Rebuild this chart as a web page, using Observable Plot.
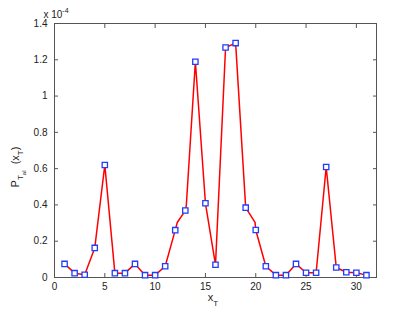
<!DOCTYPE html>
<html>
<head>
<meta charset="utf-8">
<script src="https://cdn.jsdelivr.net/npm/d3@7"></script>
<script src="https://cdn.jsdelivr.net/npm/@observablehq/plot@0.6"></script>
<style>
  html, body { margin: 0; padding: 0; background: #fff; }
  #chart { width: 415px; height: 312px; }
</style>
</head>
<body>
<div id="chart"></div>
<script>
// Values in units of 1e-4
const markerX = [1,2,3,4,5,6,7,8,9,10,11,12,13,14,15,16,17,18,19,20,21,22,23,24,25,26,27,28,29,30,31];
const markerY = [0.075,0.024,0.015,0.163,0.620,0.024,0.024,0.075,0.013,0.013,0.062,0.261,0.369,1.189,0.409,0.070,1.268,1.292,0.385,0.262,0.062,0.013,0.013,0.075,0.026,0.026,0.609,0.055,0.029,0.026,0.013];
const lineX = [1,2,3,4,5,6,7,8,9,10,11,12,12.2,13,13.1,14,15,16,17,18,19,19.93,20,21,22,23,24,25,26,27,28,29,30,31];
const lineY = [0.075,0.024,0.015,0.163,0.620,0.024,0.024,0.075,0.013,0.013,0.062,0.261,0.303,0.369,0.398,1.189,0.409,0.070,1.268,1.292,0.385,0.304,0.262,0.062,0.013,0.013,0.075,0.026,0.026,0.609,0.055,0.029,0.026,0.013];
const xTicks = [0,5,10,15,20,25,30];
const yTicks = [0,0.2,0.4,0.6,0.8,1,1.2,1.4];

const markers = markerX.map((x, i) => ({x, y: markerY[i]}));
const line = lineX.map((x, i) => ({x, y: lineY[i]}));

const axisColor = "#555";
const textColor = "#222";
const font = "'Liberation Sans', Arial, sans-serif";

const chart = Plot.plot({
  width: 415,
  height: 312,
  marginLeft: 54,
  marginRight: 39,
  marginTop: 23,
  marginBottom: 35,
  style: {fontFamily: font, fontSize: "10px", color: textColor, background: "#fff"},
  x: {domain: [0, 32], ticks: xTicks},
  y: {domain: [0, 1.4], ticks: yTicks},
  marks: [
    Plot.frame({stroke: axisColor, strokeWidth: 1}),
    Plot.axisX(xTicks, {anchor: "bottom", tickSize: -4, tickPadding: 9, stroke: axisColor, label: null, tickFormat: d => String(d), fill: textColor}),
    Plot.axisX(xTicks, {anchor: "top", tickSize: -4, stroke: axisColor, label: null, tickFormat: () => ""}),
    Plot.axisY(yTicks, {anchor: "left", tickSize: -4, tickPadding: 11, stroke: axisColor, label: null, tickFormat: d => String(d), fill: textColor}),
    Plot.axisY(yTicks, {anchor: "right", tickSize: -4, stroke: axisColor, label: null, tickFormat: () => ""}),
    Plot.line(line, {x: "x", y: "y", stroke: "#ff0000", strokeWidth: 1.5}),
    Plot.dot(markers, {x: "x", y: "y", symbol: "square", r: 3, stroke: "#1f3cff", strokeWidth: 1.3, fill: "#fff"})
  ]
});

document.getElementById("chart").appendChild(chart);

const svg = d3.select(chart);
// Exponent label
const ex = svg.append("text").attr("x", 56).attr("y", 18).attr("fill", textColor)
  .attr("font-size", 10).attr("font-family", font);
ex.append("tspan").text("x 10");
ex.append("tspan").attr("dy", -5).attr("font-size", 7).text("-4");

// x label
const xl = svg.append("text").attr("x", 213).attr("y", 301).attr("fill", textColor)
  .attr("font-size", 11).attr("font-family", font);
xl.append("tspan").text("x");
xl.append("tspan").attr("dy", 5).attr("font-size", 8).text("T");

// y label
const yl = svg.append("text").attr("transform", "translate(19,167) rotate(-90)").attr("fill", textColor)
  .attr("font-size", 11).attr("font-family", font);
yl.append("tspan").text("P");
yl.append("tspan").attr("dy", 4).attr("font-size", 8).text("T");
yl.append("tspan").attr("dy", 3).attr("font-size", 6).text("al");
yl.append("tspan").attr("dy", -7).text("\u00a0\u00a0(x");
yl.append("tspan").attr("dy", 4).attr("font-size", 8).text("T");
yl.append("tspan").attr("dy", -4).text(")");
</script>
</body>
</html>
